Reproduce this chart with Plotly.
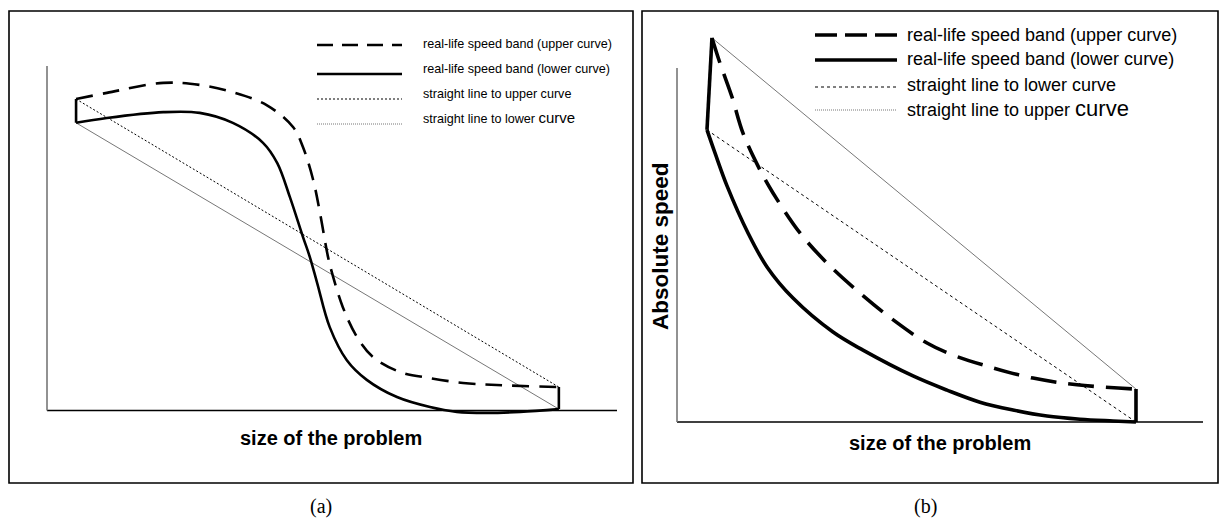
import plotly.graph_objects as go

W, H = 1220, 520

# ---------------- Panel (a): S-shaped speed band ----------------
a_size_upper = [5.1, 10.5, 20.4, 26.8, 32.6, 38.6, 43.2, 44.9, 46.7, 47.9, 49.3, 50.2,
                51.9, 54.4, 57.2, 61.9, 67.2, 73.0, 78.9, 89.8]
a_speed_upper = [90.4, 92.2, 95.1, 94.5, 92.4, 88.6, 82.2, 76.5, 66.9, 57.3, 44.6, 38.8,
                 30.0, 21.3, 15.5, 11.2, 9.4, 8.0, 7.4, 6.8]
a_size_lower = [5.1, 10.5, 20.4, 26.8, 32.6, 37.9, 40.4, 42.6, 44.9, 46.1, 47.4, 49.6,
                52.6, 56.1, 61.4, 67.2, 71.9, 77.2, 83.0, 89.8]
a_speed_lower = [83.5, 84.9, 86.6, 86.4, 83.5, 77.7, 71.8, 62.0, 50.4, 44.6, 37.0, 24.2,
                 14.6, 8.9, 3.9, 1.0, -0.4, -0.7, -0.4, 0.4]
a_legend = ["real-life speed band (upper curve)", "real-life speed band (lower curve)",
            "straight line to upper curve", "straight line to lower "]

# ---------------- Panel (b): convex speed band ----------------
b_size_upper = [6.65, 8.17, 10.46, 12.55, 15.78, 18.25, 23.38, 28.52, 34.79, 40.87,
                47.53, 52.47, 60.08, 67.68, 76.05, 87.26]
b_speed_upper = [108.5, 101.4, 91.8, 81.6, 71.2, 64.7, 53.4, 44.9, 36.4, 29.1,
                 22.3, 18.9, 15.3, 12.4, 10.5, 9.3]
b_size_lower = [5.70, 7.22, 9.51, 13.50, 17.11, 22.05, 29.66, 35.36, 44.87,
                51.33, 57.60, 63.88, 70.34, 76.62, 82.89, 87.26]
b_speed_lower = [82.5, 76.0, 66.7, 53.4, 43.8, 35.0, 25.4, 20.3, 13.0,
                 9.0, 5.6, 3.4, 1.7, 0.8, 0.3, 0.0]
b_legend = ["real-life speed band (upper curve)", "real-life speed band (lower curve)",
            "straight line to lower curve", "straight line to upper "]

x_title = "size of the problem"
y_title = "Absolute speed"
panel_labels = ["(a)", "(b)"]

# ---------------- layout geometry (pixels) ----------------
def px_x(p):
    return p / W

def px_y(p):
    return 1 - p / H

# axis origin px, px per unit, ranges
A = dict(ox=47, oy=410.5, sx=5.70, sy=3.445, xr=[-3, 103], yr=[-3, 100])
B = dict(ox=677, oy=422, sx=5.26, sy=3.54, xr=[-3, 103], yr=[-3, 112])

def dom(g):
    xd = [px_x(g["ox"] + g["sx"] * g["xr"][0]), px_x(g["ox"] + g["sx"] * g["xr"][1])]
    yd = [px_y(g["oy"] - g["sy"] * g["yr"][0]), px_y(g["oy"] - g["sy"] * g["yr"][1])]
    return xd, yd

fig = go.Figure()

def add_panel(xs_u, ys_u, xs_l, ys_l, xa, ya, w_curve, dash_curve, up_line, low_line):
    # straight lines
    fig.add_trace(go.Scatter(x=[xs_u[0], xs_u[-1]], y=[ys_u[0], ys_u[-1]], mode="lines",
                             line=up_line, xaxis=xa, yaxis=ya, showlegend=False, hoverinfo="skip"))
    fig.add_trace(go.Scatter(x=[xs_l[0], xs_l[-1]], y=[ys_l[0], ys_l[-1]], mode="lines",
                             line=low_line, xaxis=xa, yaxis=ya, showlegend=False, hoverinfo="skip"))
    # band curves
    fig.add_trace(go.Scatter(x=xs_u, y=ys_u, mode="lines",
                             line=dict(color="black", width=w_curve, dash=dash_curve, shape="spline", smoothing=1.0),
                             xaxis=xa, yaxis=ya, showlegend=False))
    fig.add_trace(go.Scatter(x=xs_l, y=ys_l, mode="lines",
                             line=dict(color="black", width=w_curve, shape="spline", smoothing=1.0),
                             xaxis=xa, yaxis=ya, showlegend=False))
    # connectors closing the band
    for i in (0, -1):
        fig.add_trace(go.Scatter(x=[xs_u[i], xs_l[i]], y=[ys_u[i], ys_l[i]], mode="lines",
                                 line=dict(color="black", width=w_curve),
                                 xaxis=xa, yaxis=ya, showlegend=False, hoverinfo="skip"))

add_panel(a_size_upper, a_speed_upper, a_size_lower, a_speed_lower, "x", "y", 2.6, "17px,10px",
          dict(color="black", width=1, dash="2px,2px"), dict(color="#777", width=1))
add_panel(b_size_upper, b_speed_upper, b_size_lower, b_speed_lower, "x2", "y2", 3.6, "26px,12px",
          dict(color="#777", width=1), dict(color="black", width=1, dash="3px,3px"))

xa_d, ya_d = dom(A)
xb_d, yb_d = dom(B)
hidden = dict(visible=False, showgrid=False, zeroline=False, fixedrange=True)
fig.update_layout(
    xaxis=dict(domain=xa_d, range=A["xr"], anchor="y", **hidden),
    yaxis=dict(domain=ya_d, range=A["yr"], anchor="x", **hidden),
    xaxis2=dict(domain=xb_d, range=B["xr"], anchor="y2", **hidden),
    yaxis2=dict(domain=yb_d, range=B["yr"], anchor="x2", **hidden),
)

shapes = []
# axis lines
shapes += [
    dict(type="line", xref="x", yref="y", x0=0, y0=0, x1=100, y1=0, line=dict(color="black", width=1.3)),
    dict(type="line", xref="x", yref="y", x0=0, y0=0, x1=0, y1=100, line=dict(color="#777", width=1.6)),
    dict(type="line", xref="x2", yref="y2", x0=0, y0=0, x1=100, y1=0, line=dict(color="black", width=1.3)),
    dict(type="line", xref="x2", yref="y2", x0=0, y0=0, x1=0, y1=100, line=dict(color="#777", width=1.6)),
]
# panel frames
for x0, x1 in [(9, 633), (642, 1218)]:
    shapes.append(dict(type="rect", xref="paper", yref="paper", x0=px_x(x0), x1=px_x(x1),
                       y0=px_y(483), y1=px_y(11), line=dict(color="black", width=1.6)))

annotations = []

def legend(x0, x1, ys_line, tx, ys_text, labels, styles, font, big):
    for yl, yt, lab, st in zip(ys_line, ys_text, labels, styles):
        shapes.append(dict(type="line", xref="paper", yref="paper", x0=px_x(x0), x1=px_x(x1),
                           y0=px_y(yl), y1=px_y(yl), line=st))
        text = lab
        if lab.endswith(" "):
            text = lab + "<span style='font-size:%dpx'>curve</span>" % big
        annotations.append(dict(xref="paper", yref="paper", x=px_x(tx), y=px_y(yt), text=text,
                                showarrow=False, xanchor="left", yanchor="middle", font=font))

legend(317, 402, [45, 74, 99, 124], 421, [44, 69, 94, 118], a_legend,
       [dict(color="black", width=2.6, dash="16px,9px"), dict(color="black", width=2.6),
        dict(color="black", width=1, dash="2px,2px"), dict(color="#777", width=1, dash="1px,1px")],
       dict(family="Liberation Sans, Arial", size=12.6, color="black"), 15)
legend(815, 897, [35, 60, 87, 110], 905, [35, 59, 85, 108], b_legend,
       [dict(color="black", width=3.4, dash="22px,8px"), dict(color="black", width=3.4),
        dict(color="black", width=1, dash="3px,3px"), dict(color="#777", width=1, dash="1px,1px")],
       dict(family="Liberation Sans, Arial", size=18, color="black"), 22)

# axis titles
annotations += [
    dict(xref="paper", yref="paper", x=px_x(331), y=px_y(438), text="<b>%s</b>" % x_title, showarrow=False,
         xanchor="center", yanchor="middle",
         font=dict(family="Liberation Sans, Arial", size=20, color="black")),
    dict(xref="paper", yref="paper", x=px_x(940), y=px_y(443), text="<b>%s</b>" % x_title, showarrow=False,
         xanchor="center", yanchor="middle", font=dict(family="Liberation Sans, Arial", size=20, color="black")),
    dict(xref="paper", yref="paper", x=px_x(660), y=px_y(246), text="<b>%s</b>" % y_title, showarrow=False,
         textangle=-90, xanchor="center", yanchor="middle",
         font=dict(family="Liberation Sans, Arial", size=22.5, color="black")),
    dict(xref="paper", yref="paper", x=px_x(321), y=px_y(506), text=panel_labels[0], showarrow=False,
         xanchor="center", yanchor="middle", font=dict(family="Liberation Serif, Times New Roman", size=20, color="black")),
    dict(xref="paper", yref="paper", x=px_x(925), y=px_y(506), text=panel_labels[1], showarrow=False,
         xanchor="center", yanchor="middle", font=dict(family="Liberation Serif, Times New Roman", size=20, color="black")),
]

fig.update_layout(
    width=W, height=H, margin=dict(l=0, r=0, t=0, b=0, pad=0),
    paper_bgcolor="white", plot_bgcolor="rgba(0,0,0,0)",
    showlegend=False, shapes=shapes, annotations=annotations,
)

fig.write_html("out.html", config={"displayModeBar": False},
               post_script="document.body.style.margin='0px';")
